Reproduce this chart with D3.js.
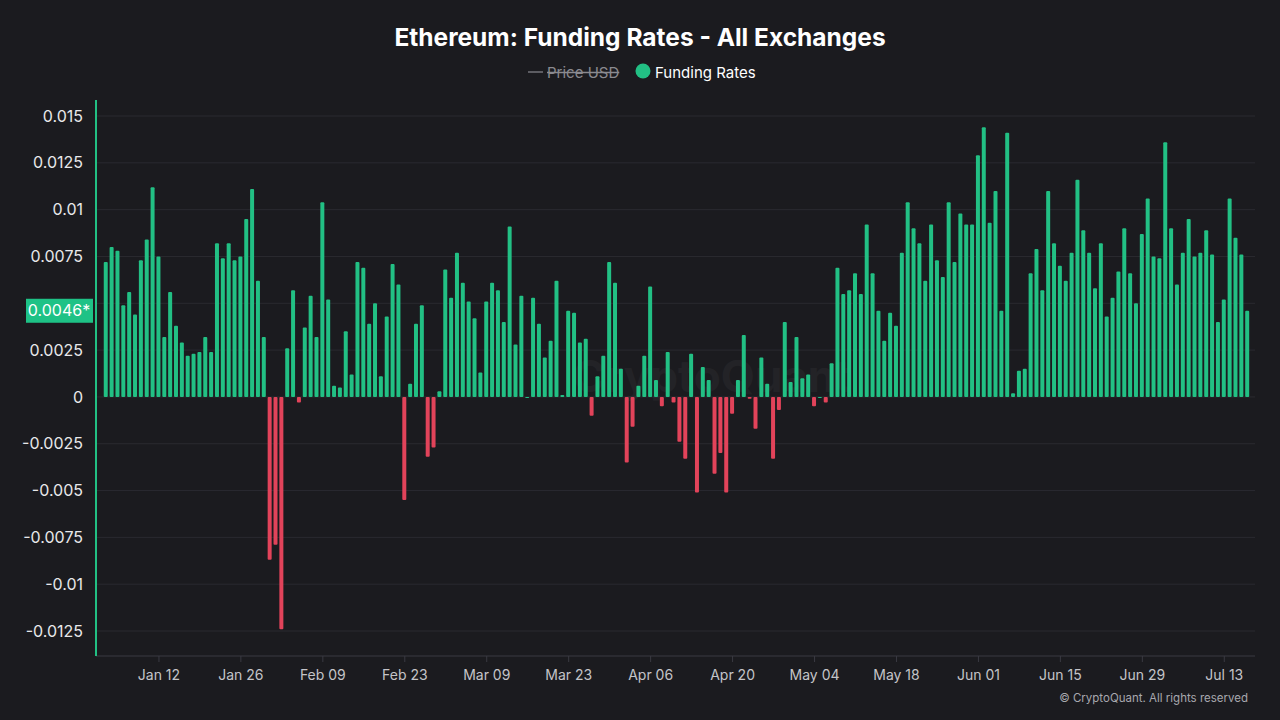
<!DOCTYPE html>
<html>
<head>
<meta charset="utf-8">
<script src="https://cdn.jsdelivr.net/npm/d3@7/dist/d3.min.js"></script>
<style>
  html, body { margin: 0; padding: 0; background: #1b1b1f; }
  svg { display: block; font-family: Inter, "Noto Sans", sans-serif; }
</style>
</head>
<body>
<svg id="chart" width="1280" height="720"></svg>
<script>
// ---- Data ----
const startDate = "2025-01-03";
const fundingRates = [
  0.0072, 0.0080, 0.0078, 0.0049, 0.0056, 0.0044, 0.0073, 0.0084, 0.0112, 0.0075,
  0.0032, 0.0056, 0.0038, 0.0029, 0.0022, 0.0023, 0.0024, 0.0032, 0.0024, 0.0082,
  0.0074, 0.0082, 0.0073, 0.0075, 0.0095, 0.0111, 0.0062, 0.0032, -0.0087, -0.0079,
  -0.0124, 0.0026, 0.0057, -0.0003, 0.0037, 0.0054, 0.0032, 0.0104, 0.0052, 0.0006,
  0.0005, 0.0035, 0.0012, 0.0072, 0.0069, 0.0039, 0.0050, 0.0011, 0.0043, 0.0071,
  0.0060, -0.0055, 0.0007, 0.0039, 0.0049, -0.0032, -0.0027, 0.0003, 0.0068, 0.0053,
  0.0077, 0.0061, 0.0051, 0.0042, 0.0013, 0.0051, 0.0061, 0.0057, 0.0040, 0.0091,
  0.0028, 0.0054, 0.0000, 0.0053, 0.0039, 0.0021, 0.0030, 0.0062, 0.0001, 0.0046,
  0.0045, 0.0029, 0.0031, -0.0010, 0.0011, 0.0022, 0.0072, 0.0061, 0.0015, -0.0035,
  -0.0016, 0.0006, 0.0022, 0.0059, 0.0009, -0.0005, 0.0024, -0.0003, -0.0024, -0.0033,
  0.0023, -0.0051, 0.0016, 0.0009, -0.0041, -0.0030, -0.0051, -0.0009, 0.0009, 0.0033,
  -0.0001, -0.0017, 0.0021, 0.0007, -0.0033, -0.0007, 0.0040, 0.0008, 0.0032, 0.0010,
  0.0012, -0.0005, 0.0000, -0.0003, 0.0018, 0.0069, 0.0055, 0.0057, 0.0066, 0.0055,
  0.0092, 0.0066, 0.0046, 0.0030, 0.0045, 0.0038, 0.0077, 0.0104, 0.0090, 0.0082,
  0.0062, 0.0092, 0.0073, 0.0064, 0.0104, 0.0072, 0.0098, 0.0092, 0.0092, 0.0129,
  0.0144, 0.0093, 0.0110, 0.0046, 0.0141, 0.0002, 0.0014, 0.0015, 0.0066, 0.0079,
  0.0057, 0.0110, 0.0082, 0.0070, 0.0062, 0.0077, 0.0116, 0.0089, 0.0077, 0.0058,
  0.0082, 0.0043, 0.0053, 0.0067, 0.0090, 0.0066, 0.0050, 0.0087, 0.0106, 0.0075,
  0.0074, 0.0136, 0.0090, 0.0060, 0.0077, 0.0095, 0.0075, 0.0077, 0.0089, 0.0076,
  0.0040, 0.0052, 0.0106, 0.0085, 0.0076, 0.0046
];
const yTicks = [0.015, 0.0125, 0.01, 0.0075, 0.005, 0.0025, 0, -0.0025, -0.005, -0.0075, -0.01, -0.0125];
// the 0.005 label is hidden behind the last-value marker in the reference
const yTickLabels = ["0.015", "0.0125", "0.01", "0.0075", "", "0.0025", "0", "-0.0025", "-0.005", "-0.0075", "-0.01", "-0.0125"];
const xTickDates = ["2025-01-12", "2025-01-26", "2025-02-09", "2025-02-23", "2025-03-09", "2025-03-23", "2025-04-06", "2025-04-20", "2025-05-04", "2025-05-18", "2025-06-01", "2025-06-15", "2025-06-29", "2025-07-13"];
const xTickLabels = ["Jan 12", "Jan 26", "Feb 09", "Feb 23", "Mar 09", "Mar 23", "Apr 06", "Apr 20", "May 04", "May 18", "Jun 01", "Jun 15", "Jun 29", "Jul 13"];
const lastValueLabel = "0.0046*";

// ---- Setup ----
const parse = d3.utcParse("%Y-%m-%d");
const start = parse(startDate);
const data = fundingRates.map((v, i) => ({ date: d3.utcDay.offset(start, i), value: v }));
const end = data[data.length - 1].date;

const svg = d3.select("#chart");
const W = 1280, H = 720;
const plotLeft = 96, plotRight = 1255, plotTop = 100, plotBottom = 656;

svg.append("rect").attr("width", W).attr("height", H).attr("fill", "#1b1b1f");

const x = d3.scaleUtc()
  .domain([d3.utcHour.offset(start, -40), d3.utcHour.offset(end, 32)])
  .range([plotLeft, plotRight]);
const y = d3.scaleLinear().domain([-0.0125, 0.015]).range([631, 116]);

// Gridlines
svg.append("g").selectAll("line").data(yTicks).join("line")
  .attr("x1", plotLeft).attr("x2", plotRight)
  .attr("y1", d => y(d)).attr("y2", d => y(d))
  .attr("stroke", "#2a2a30").attr("stroke-width", 1);

// Watermark
svg.append("text")
  .attr("x", 712).attr("y", 392)
  .attr("text-anchor", "middle")
  .attr("font-size", 44).attr("font-weight", 700)
  .attr("fill", "#ffffff").attr("opacity", 0.035)
  .text("CryptoQuant");

// Bars
const green = "#22c084", red = "#e2435a";
const bw = 4;
svg.append("g").selectAll("rect").data(data).join("rect")
  .attr("x", d => x(d.date) - bw / 2)
  .attr("width", bw)
  .attr("y", d => Math.min(y(d.value), y(0)))
  .attr("height", d => Math.max(1, Math.abs(y(d.value) - y(0))))
  .attr("rx", 1)
  .attr("fill", d => d.value < 0 ? red : green);

// Bottom axis
const xAxis = d3.axisBottom(x)
  .tickValues(xTickDates.map(parse))
  .tickFormat((d, i) => xTickLabels[i])
  .tickSize(6).tickPadding(8);
const gx = svg.append("g").attr("transform", `translate(0,${plotBottom})`).call(xAxis);
gx.select(".domain").attr("stroke", "#3a3a42").attr("d", `M${plotLeft},0H${plotRight}`);
gx.selectAll(".tick line").attr("stroke", "#3a3a42");
gx.selectAll(".tick text").attr("fill", "#c4c4c8").attr("font-size", 14).attr("font-family", "Inter, sans-serif");

// Left axis
const yAxis = d3.axisLeft(y)
  .tickValues(yTicks)
  .tickFormat((d, i) => yTickLabels[i])
  .tickSize(0).tickPadding(13);
const gy = svg.append("g").attr("transform", `translate(${plotLeft},0)`).call(yAxis);
gy.select(".domain").remove();
gy.selectAll(".tick text").attr("fill", "#e8e8ea").attr("font-size", 16).attr("font-family", "Inter, sans-serif");
svg.append("line")
  .attr("x1", plotLeft).attr("x2", plotLeft)
  .attr("y1", plotTop).attr("y2", plotBottom)
  .attr("stroke", "#22c084").attr("stroke-width", 2);

// Last value label
const lastY = y(fundingRates[fundingRates.length - 1]);
svg.append("rect")
  .attr("x", 26).attr("y", lastY - 12).attr("width", 67).attr("height", 24)
  .attr("fill", "#1ec286");
svg.append("text")
  .attr("x", 59).attr("y", lastY + 5.5)
  .attr("text-anchor", "middle")
  .attr("font-size", 16).attr("fill", "#ffffff")
  .text(lastValueLabel);

// Title
svg.append("text")
  .attr("x", 640).attr("y", 46)
  .attr("text-anchor", "middle")
  .attr("font-size", 24.5).attr("font-weight", 700).attr("fill", "#ffffff")
  .text("Ethereum: Funding Rates - All Exchanges");

// Legend
svg.append("line").attr("x1", 528).attr("x2", 543).attr("y1", 72).attr("y2", 72)
  .attr("stroke", "#8a8a90").attr("stroke-width", 1.2);
svg.append("text").attr("x", 547).attr("y", 77.5)
  .attr("font-size", 15).attr("fill", "#8a8a90")
  .attr("text-decoration", "line-through")
  .text("Price USD");
svg.append("circle").attr("cx", 643).attr("cy", 71).attr("r", 7.5).attr("fill", "#22c084");
svg.append("text").attr("x", 655).attr("y", 77.5)
  .attr("font-size", 15).attr("fill", "#ffffff")
  .text("Funding Rates");

// Copyright
svg.append("text").attr("x", 1248).attr("y", 702)
  .attr("text-anchor", "end")
  .attr("font-size", 11.5).attr("fill", "#a8a8ae")
  .text("© CryptoQuant. All rights reserved");
</script>
</body>
</html>
